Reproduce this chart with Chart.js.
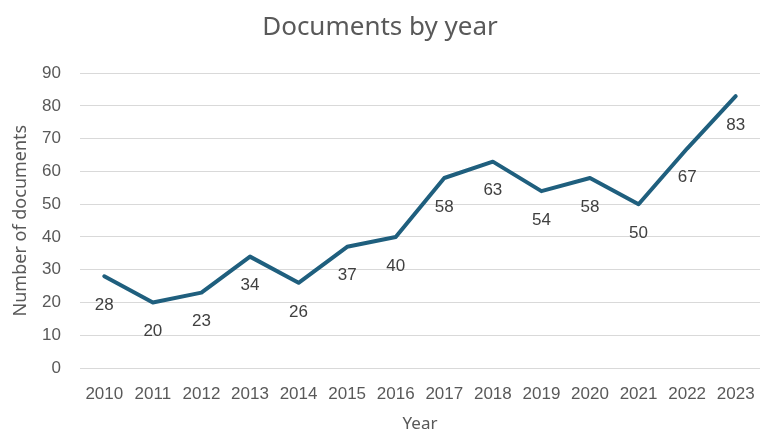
<!DOCTYPE html>
<html>
<head>
<meta charset="utf-8">
<script src="https://cdn.jsdelivr.net/npm/chart.js@4/dist/chart.umd.min.js"></script>
<style>
  html, body { margin: 0; padding: 0; background: #fff; }
  #wrap { width: 760px; height: 434px; }
</style>
</head>
<body>
<div id="wrap"><canvas id="docsChart"></canvas></div>
<script>
// Documents per year
const years = ['2010', '2011', '2012', '2013', '2014', '2015', '2016', '2017', '2018', '2019', '2020', '2021', '2022', '2023'];
const documents = [28, 20, 23, 34, 26, 37, 40, 58, 63, 54, 58, 50, 67, 83];
const yTicks = [0, 10, 20, 30, 40, 50, 60, 70, 80, 90];

const LINE_COLOR = '#1f5f7e';
const TEXT_COLOR = '#595959';
const SANS = '"Liberation Sans", Arial, sans-serif';

// Value labels drawn under each point
const pointLabels = {
    id: 'pointLabels',
    afterDatasetsDraw(chart) {
        const ctx = chart.ctx;
        const meta = chart.getDatasetMeta(0);
        ctx.save();
        ctx.font = '17px ' + SANS;
        ctx.fillStyle = '#404040';
        ctx.textAlign = 'center';
        ctx.textBaseline = 'middle';
        meta.data.forEach((pt, i) => {
            ctx.fillText(documents[i], pt.x, pt.y + 29);
        });
        ctx.restore();
    }
};

const ctx = document.getElementById('docsChart').getContext('2d');
const docsChart = new Chart(ctx, {
    type: 'line',
    data: {
        labels: years,
        datasets: [{
            label: 'Documents',
            data: documents,
            borderColor: LINE_COLOR,
            borderWidth: 4,
            pointRadius: 0,
            tension: 0,
            borderJoinStyle: 'round',
            borderCapStyle: 'round'
        }]
    },
    options: {
        responsive: true,
        maintainAspectRatio: false,
        animation: false,
        layout: { padding: 0 },
        plugins: {
            legend: { display: false },
            tooltip: { enabled: false },
            title: {
                display: true,
                text: 'Documents by year',
                color: TEXT_COLOR,
                font: { family: '"Noto Sans", sans-serif', size: 26, weight: 'normal' },
                padding: { top: 12, bottom: 30 }
            }
        },
        scales: {
            x: {
                offset: true,
                grid: { display: false },
                border: { display: false },
                ticks: {
                    color: TEXT_COLOR,
                    font: { family: SANS, size: 17 },
                    maxRotation: 0,
                    autoSkip: false,
                    padding: 8
                },
                title: {
                    display: true,
                    text: 'Year',
                    color: TEXT_COLOR,
                    font: { family: '"Noto Sans", sans-serif', size: 17 },
                    padding: { top: 6, bottom: 0 }
                },
                afterFit(scale) {
                    scale.height = 66;
                    scale.paddingLeft = 0;
                    scale.paddingRight = 0;
                }
            },
            y: {
                min: 0,
                max: 90,
                afterBuildTicks(scale) { scale.ticks = yTicks.map(v => ({ value: v })); },
                grid: { color: '#d9d9d9', lineWidth: 1, drawTicks: false },
                border: { display: false },
                ticks: {
                    color: TEXT_COLOR,
                    font: { family: SANS, size: 17 },
                    padding: 19
                },
                title: {
                    display: true,
                    text: 'Number of documents',
                    color: TEXT_COLOR,
                    font: { family: '"Noto Sans", sans-serif', size: 18 },
                    padding: { top: 10, bottom: 2 }
                },
                afterFit(scale) { scale.width = 80; }
            }
        }
    },
    plugins: [pointLabels]
});
</script>
</body>
</html>
